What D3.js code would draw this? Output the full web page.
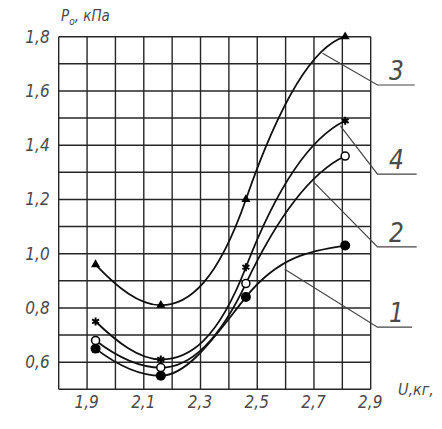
<!DOCTYPE html>
<html><head><meta charset="utf-8">
<script src="https://cdn.jsdelivr.net/npm/d3@7"></script>
<style>
html,body{margin:0;padding:0;background:#fff;}
text{font-family:"DejaVu Sans Condensed","DejaVu Sans",sans-serif;font-style:italic;fill:#4a4a4a;}
</style></head>
<body><svg id="c" width="442" height="429"></svg>
<script>
// ---- data ----
const xValues = [1.93, 2.16, 2.46, 2.81];
const series1 = [0.65, 0.55, 0.84, 1.03]; // filled circles
const series2 = [0.68, 0.58, 0.89, 1.36]; // open circles
const series3 = [0.96, 0.81, 1.20, 1.80]; // triangles
const series4 = [0.75, 0.61, 0.95, 1.49]; // stars
// tangent slopes of the drawn curves at each point
const slopes1 = [-0.8, 0, 1.3, 0.15];
const slopes2 = [-0.8, 0, 2.2, 0.5];
const slopes3 = [-1.1, 0, 3.0, 0.3];
const slopes4 = [-1.0, 0, 2.7, 0.5];
const xTicks = [1.9, 2.1, 2.3, 2.5, 2.7, 2.9];
const yTicks = [0.6, 0.8, 1.0, 1.2, 1.4, 1.6, 1.8];
// leader lines in data units: start on curve, elbow, end of shelf
const leaders = [
  {name:"3", pts:[[2.73,1.739],[2.924,1.622],[3.055,1.622]]},
  {name:"4", pts:[[2.793,1.471],[2.924,1.293],[3.062,1.293]]},
  {name:"2", pts:[[2.699,1.264],[2.924,1.025],[3.062,1.025]]},
  {name:"1", pts:[[2.597,0.943],[2.924,0.729],[3.046,0.729]]}
];

const svg = d3.select("#c");
const L = 58.7, R = 370.7, T = 36.7, B = 389.3;
const x = d3.scaleLinear().domain([1.8, 2.9]).range([L, R]);
const y = d3.scaleLinear().domain([0.5, 1.8]).range([B, T]);
const fmt = d => d3.format(".1f")(d).replace(".", ",");

// grid
const gx = d3.range(18, 30).map(v => v / 10);
const gy = d3.range(5, 19).map(v => v / 10);
const grid = svg.append("g").attr("stroke", "#262626").attr("stroke-width", 1.4);
grid.selectAll(".v").data(gx).join("line")
  .attr("x1", d => x(d)).attr("x2", d => x(d)).attr("y1", T).attr("y2", B);
grid.selectAll(".h").data(gy).join("line")
  .attr("y1", d => y(d)).attr("y2", d => y(d)).attr("x1", L).attr("x2", R);

// axes labels
const ax = svg.append("g").attr("transform", `translate(0,${B})`)
  .call(d3.axisBottom(x).tickValues(xTicks).tickFormat(fmt).tickSize(0).tickPadding(7));
ax.select(".domain").remove();
ax.selectAll("text").attr("font-size", 17).attr("font-family", null).attr("dx", -1);
const ay = svg.append("g").attr("transform", `translate(${L},0)`)
  .call(d3.axisLeft(y).tickValues(yTicks).tickFormat(fmt).tickSize(0).tickPadding(9));
ay.select(".domain").remove();
ay.selectAll("text").attr("font-size", 17).attr("font-family", null);

// axis titles
const tP = svg.append("text").attr("x", 61).attr("y", 21).attr("font-size", 15);
tP.append("tspan").text("P");
tP.append("tspan").attr("font-size", 10).attr("dy", 4).text("o");
tP.append("tspan").attr("dy", -4).text(", кПа");
svg.append("text").attr("x", 398).attr("y", 395).attr("font-size", 16).text("U,кг,");

// curves: cubic Hermite through the points, built with scales
function hermitePath(xs, ys, ms) {
  const p = d3.path();
  p.moveTo(x(xs[0]), y(ys[0]));
  for (let i = 0; i < xs.length - 1; i++) {
    const h = xs[i + 1] - xs[i];
    p.bezierCurveTo(
      x(xs[i] + h / 3), y(ys[i] + ms[i] * h / 3),
      x(xs[i + 1] - h / 3), y(ys[i + 1] - ms[i + 1] * h / 3),
      x(xs[i + 1]), y(ys[i + 1]));
  }
  return p.toString();
}
[[series1, slopes1], [series2, slopes2], [series3, slopes3], [series4, slopes4]].forEach(([s, m]) => {
  svg.append("path").attr("d", hermitePath(xValues, s, m))
    .attr("fill", "none").attr("stroke", "#111").attr("stroke-width", 1.8);
});

// leaders
const ll = d3.line().x(d => x(d[0])).y(d => y(d[1]));
leaders.forEach(l => {
  svg.append("path").attr("d", ll(l.pts)).attr("fill", "none").attr("stroke", "#444").attr("stroke-width", 1.2);
  svg.append("text").attr("x", x(l.pts[1][0]) + 19).attr("y", y(l.pts[1][1]) - 5)
    .attr("text-anchor", "middle").attr("font-size", 26).text(l.name);
});

// markers
const m = svg.append("g");
m.selectAll(".s1").data(xValues).join("circle")
  .attr("cx", d => x(d)).attr("cy", (d, i) => y(series1[i])).attr("r", 5).attr("fill", "#000");
m.selectAll(".s2").data(xValues).join("circle")
  .attr("cx", d => x(d)).attr("cy", (d, i) => y(series2[i])).attr("r", 4)
  .attr("fill", "#fff").attr("stroke", "#000").attr("stroke-width", 1.5);
m.selectAll(".s3").data(xValues).join("path")
  .attr("transform", (d, i) => `translate(${x(d)},${y(series3[i])})`)
  .attr("d", d3.symbol(d3.symbolTriangle, 36)).attr("fill", "#000");
m.selectAll(".s4").data(xValues).join("path")
  .attr("transform", (d, i) => `translate(${x(d)},${y(series4[i])})`)
  .attr("d", d3.symbol(d3.symbolAsterisk, 45)).attr("fill", "none").attr("stroke", "#000").attr("stroke-width", 2);
</script></body></html>
